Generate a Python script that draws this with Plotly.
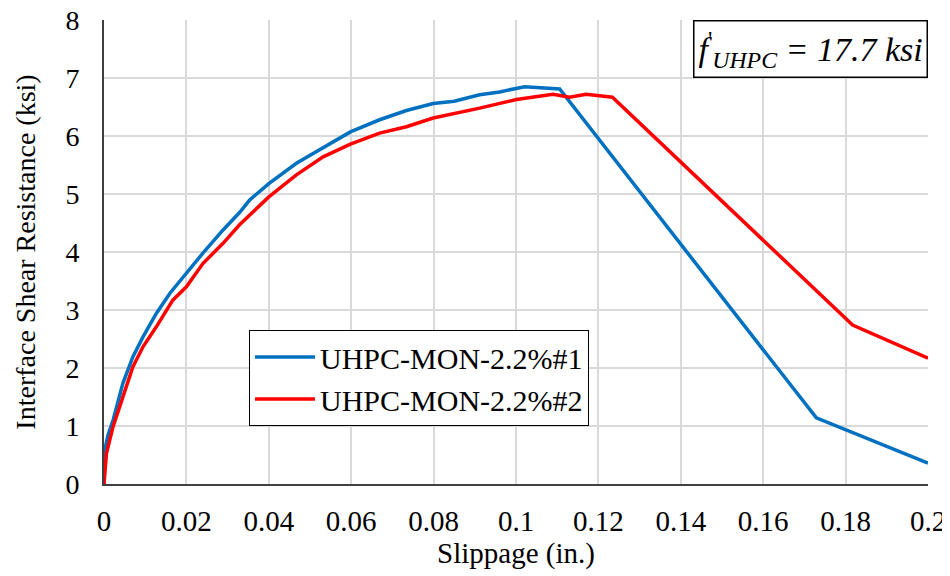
import plotly.graph_objects as go

# Specimen UHPC-MON-2.2%#1 (blue)
slip_1 = [0, 0.0002, 0.0010, 0.0022, 0.0046, 0.0070, 0.0095, 0.0127, 0.0160, 0.0192,
          0.0240, 0.0289, 0.0329, 0.0354, 0.0400, 0.0467, 0.0532, 0.0598, 0.0669,
          0.0734, 0.0799, 0.0850, 0.0912, 0.0960, 0.1021, 0.1060, 0.1106, 0.1729, 0.2]
shear_1 = [0, 0.59, 0.85, 1.10, 1.74, 2.19, 2.54, 2.94, 3.29, 3.57,
           3.98, 4.38, 4.68, 4.90, 5.18, 5.53, 5.79, 6.07, 6.28,
           6.44, 6.56, 6.60, 6.71, 6.76, 6.85, 6.83, 6.81, 1.14, 0.36]

# Specimen UHPC-MON-2.2%#2 (red)
slip_2 = [0, 0.0002, 0.0006, 0.0022, 0.0046, 0.0070, 0.0095, 0.0127, 0.0167, 0.0200,
          0.0240, 0.0289, 0.0329, 0.0400, 0.0467, 0.0532, 0.0598, 0.0669, 0.0734,
          0.0799, 0.0912, 0.1001, 0.1090, 0.1130, 0.1170, 0.1234, 0.1817, 0.2]
shear_2 = [0, 0.25, 0.53, 0.99, 1.51, 2.02, 2.37, 2.71, 3.17, 3.40,
           3.80, 4.15, 4.47, 4.95, 5.33, 5.64, 5.86, 6.05, 6.16,
           6.31, 6.48, 6.63, 6.72, 6.67, 6.72, 6.67, 2.74, 2.17]

x_ticks = [0, 0.02, 0.04, 0.06, 0.08, 0.1, 0.12, 0.14, 0.16, 0.18, 0.2]
x_tick_labels = ["0", "0.02", "0.04", "0.06", "0.08", "0.1", "0.12", "0.14", "0.16", "0.18", "0.2"]

serif = "Liberation Serif"

fig = go.Figure()
fig.add_trace(go.Scatter(x=slip_1, y=shear_1, mode="lines", name="UHPC-MON-2.2%#1",
                         line={"color": "#0070C0", "width": 3.5}))
fig.add_trace(go.Scatter(x=slip_2, y=shear_2, mode="lines", name="UHPC-MON-2.2%#2",
                         line={"color": "#FF0000", "width": 3.5}))

fig.add_annotation(
    xref="paper", yref="paper", x=1, y=1, xanchor="right", yanchor="top",
    text="<i>f</i><sup>'</sup><sub><i>UHPC</i></sub><i> = 17.7 ksi</i>",
    showarrow=False, font={"family": serif, "size": 34, "color": "black"},
    bgcolor="white", bordercolor="black", borderwidth=1.5, borderpad=4,
)

# the page puts the figure 8 px in from the corner, so the size is trimmed to fit
fig.update_layout(
    width=942, height=568,
    margin={"l": 96, "r": 22, "t": 12, "b": 92},
    paper_bgcolor="white", plot_bgcolor="white",
    font={"family": serif, "size": 28, "color": "black"},
    showlegend=True,
    legend={"x": 0.176, "y": 0.332, "xanchor": "left", "yanchor": "top",
            "bgcolor": "white", "bordercolor": "black", "borderwidth": 1,
            "itemwidth": 60, "tracegroupgap": 0,
            "font": {"family": serif, "size": 30, "color": "black"}},
    xaxis={
        "range": [0, 0.2], "tickvals": x_ticks, "ticktext": x_tick_labels,
        "tickfont": {"family": serif, "size": 29, "color": "black"},
        "showgrid": True, "gridcolor": "#d9d9d9", "gridwidth": 1.5,
        "showline": True, "linecolor": "#404040", "linewidth": 2,
        "zeroline": False, "ticks": "", "ticklabelstandoff": 10,
        "ticklabeloverflow": "allow", "automargin": False,
        "title": {"text": "Slippage (in.)", "font": {"family": serif, "size": 29, "color": "black"},
                  "standoff": 5},
    },
    yaxis={
        "range": [0, 8], "dtick": 1,
        "tickfont": {"family": serif, "size": 28, "color": "black"},
        "showgrid": True, "gridcolor": "#d9d9d9", "gridwidth": 1.5,
        "showline": True, "linecolor": "#404040", "linewidth": 2,
        "zeroline": False, "ticks": "", "ticklabelstandoff": 17,
        "ticklabeloverflow": "allow", "automargin": False,
        "title": {"text": "Interface Shear Resistance (ksi)",
                  "font": {"family": serif, "size": 28, "color": "black"}, "standoff": 22},
    },
)

fig.write_html("out.html")
